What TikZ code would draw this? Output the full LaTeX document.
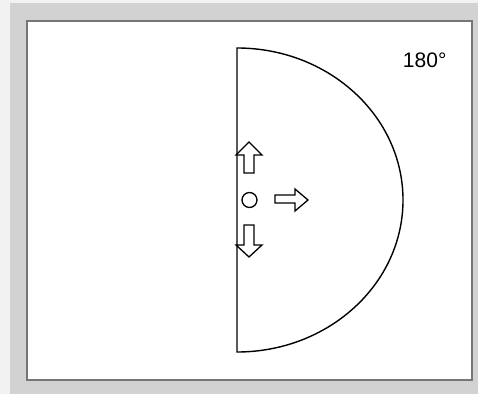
\documentclass[tikz,border=0pt]{standalone}
\usepackage{fontspec}
\setmainfont{Liberation Sans}
\usetikzlibrary{positioning}
\definecolor{pagegray}{RGB}{242,242,242}
\definecolor{panelgray}{RGB}{210,210,210}
\definecolor{framegray}{RGB}{118,118,118}

\begin{document}
\begin{tikzpicture}[
        x=1pt, y=1pt,
        outline/.style={draw=black, line width=1.4pt},
        hollow/.style={draw=black, fill=white, line width=1.3pt, line join=miter},
        lbl/.style={font=\fontsize{21}{23}\selectfont, inner sep=0pt}
    ]
        % background and frame
        \fill[pagegray] (0,0) rectangle (478,394);
        \useasboundingbox (0,0) rectangle (478,394);
        \fill[panelgray] (10,0) rectangle (478,391);
        \draw[framegray, line width=1.5pt, fill=white] (27,14) rectangle (472,373);

        % half field
        \coordinate (ctr) at (237,194);
        \draw[outline] (237,42) arc[start angle=-90, end angle=90, x radius=166pt, y radius=152pt] -- cycle;

        \node[lbl] (deg) at (424.7,333.7) {180°};

        % sensor and directions
        \node[draw, circle, line width=1.3pt, minimum size=15pt, inner sep=0pt] (dot) at (249.5,194) {};
        \draw[hollow] (244,221) -- (244,239) -- (236,239) -- (249,252) -- (262,239) -- (254,239) -- (254,221) -- cycle;
        \draw[hollow] (244,169) -- (244,149) -- (236,149) -- (249,137) -- (262,149) -- (254,149) -- (254,169) -- cycle;
        \draw[hollow] (275,199) -- (295,199) -- (295,205) -- (308,194) -- (295,183) -- (295,191) -- (275,191) -- cycle;
    \end{tikzpicture}
\end{document}
